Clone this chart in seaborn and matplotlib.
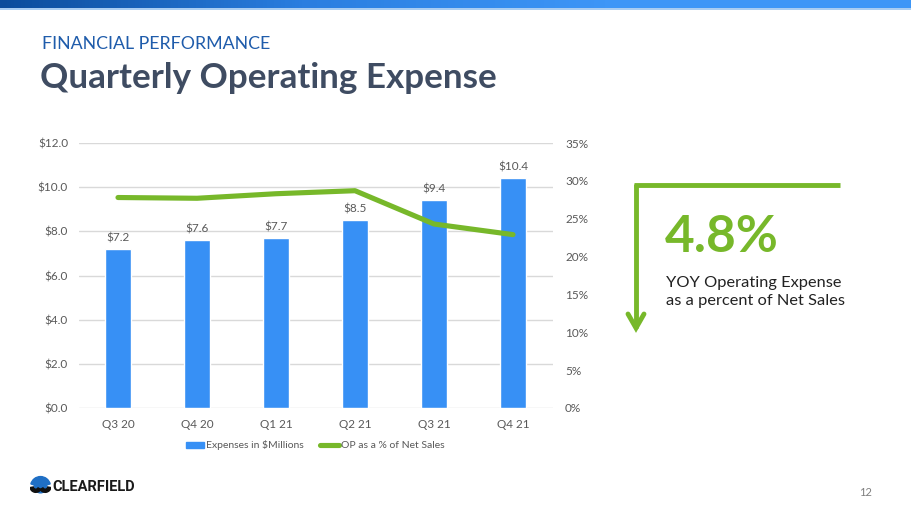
import numpy as np
import pandas as pd
import matplotlib
matplotlib.use("Agg")
import matplotlib.pyplot as plt
import seaborn as sns
from matplotlib.patches import Rectangle, Circle, Wedge
from matplotlib.lines import Line2D
from matplotlib.colors import LinearSegmentedColormap

quarters = ["Q3 20", "Q4 20", "Q1 21", "Q2 21", "Q3 21", "Q4 21"]
expenses = [7.2, 7.6, 7.7, 8.5, 9.4, 10.4]
op_pct = [27.8, 27.7, 28.3, 28.7, 24.3, 22.9]
left_ticks = [0, 2, 4, 6, 8, 10, 12]
right_ticks = [0, 5, 10, 15, 20, 25, 30, 35]

sns.set_theme(style="white")
plt.rcParams['font.family'] = ['Lato', 'DejaVu Sans']

BLUE = "#3790f5"
GREEN = "#77b82a"
GRAY = "#595959"

fig = plt.figure(figsize=(9.11, 5.12), dpi=100)

# top gradient band
band = fig.add_axes([0, 1 - 8 / 512, 1, 8 / 512])
grad = np.linspace(0, 1, 256).reshape(1, -1)
cmap = LinearSegmentedColormap.from_list("b", ["#0b4c9c", "#2a7ee0", "#3d96f7", "#3d96f7"])
band.imshow(grad, aspect="auto", cmap=cmap, extent=[0, 1, 0, 1])
band.axis("off")
fig.add_artist(Rectangle((0, 1 - 9.5 / 512), 1, 1.5 / 512, transform=fig.transFigure,
                         color="#a9cdf2", lw=0))

fig.text(42 / 911, 1 - 44 / 512, "FINANCIAL PERFORMANCE", color="#1f5cab",
         fontsize=12.8, va="center", ha="left")
fig.text(40 / 911, 1 - 78 / 512, "Quarterly Operating Expense", color="#3f4c62",
         fontsize=25.2, fontweight="bold", va="center", ha="left")

ax = fig.add_axes([78.5 / 911, 1 - 408 / 512, 474 / 911, 265 / 512])
df = pd.DataFrame({"quarter": quarters, "expense": expenses, "pct": op_pct})
sns.barplot(data=df, x="quarter", y="expense", color=BLUE, width=0.32, ax=ax,
            saturation=1, zorder=3)
ax.set_ylim(0, 12)
ax.set_xlim(-0.5, len(quarters) - 0.5)
ax.set_yticks(left_ticks)
ax.set_yticklabels([f"${v:.1f}" for v in left_ticks])
ax.grid(axis="y", color="#d9d9d9", lw=1, zorder=0)
ax.set_axisbelow(True)
for s in ax.spines.values():
    s.set_visible(False)
ax.tick_params(axis="y", length=0, labelsize=8.5, labelcolor=GRAY, pad=7.5)
ax.tick_params(axis="x", length=0, labelsize=8.5, labelcolor=GRAY, pad=8)
ax.set_xlabel("")
ax.set_ylabel("")
for i, v in enumerate(expenses):
    ax.annotate(f"${v:.1f}", (i, v), xytext=(0, 4), textcoords="offset points",
                ha="center", va="bottom", fontsize=8.5, color=GRAY)

ax2 = ax.twinx()
sns.lineplot(x=np.arange(len(quarters)), y=op_pct, ax=ax2, color=GREEN, lw=3.7,
             solid_capstyle="round", zorder=4)
ax2.set_ylim(0, 35)
ax2.set_yticks(right_ticks)
ax2.set_yticklabels([f"{v}%" for v in right_ticks])
for s in ax2.spines.values():
    s.set_visible(False)
ax2.tick_params(axis="y", length=0, labelsize=8.5, labelcolor=GRAY, pad=9)
ax2.grid(False)
ax2.set_ylabel("")

handles = [Rectangle((0, 0), 1, 1, color=BLUE),
           Line2D([0], [0], color=GREEN, lw=3.7)]
fig.legend(handles, ["Expenses in $Millions", "OP as a % of Net Sales"],
           loc="center", bbox_to_anchor=(315 / 911, 1 - 445.5 / 512), ncol=2,
           frameon=False, fontsize=7.5, handlelength=1.8, handleheight=0.5,
           handletextpad=0.15, columnspacing=1.6, labelcolor=GRAY)

# right callout
def fx(px):
    return px / 911

def fy(py):
    return 1 - py / 512

fig.add_artist(Line2D([fx(634), fx(840)], [fy(185), fy(185)], color=GREEN, lw=3.5,
                      transform=fig.transFigure, solid_capstyle="butt"))
fig.add_artist(Line2D([fx(636), fx(636)], [fy(183.5), fy(328)], color=GREEN, lw=3.5,
                      transform=fig.transFigure, solid_capstyle="butt"))
fig.add_artist(Line2D([fx(628), fx(636), fx(644)], [fy(314), fy(328), fy(314)],
                      color=GREEN, lw=3.5, transform=fig.transFigure,
                      solid_joinstyle="miter", solid_capstyle="round"))
fig.text(fx(665), fy(238), "4.8%", color=GREEN, fontsize=37, fontweight="bold",
         va="center", ha="left")
fig.text(fx(666), fy(283), "YOY Operating Expense", color="#222222", fontsize=11.8,
         va="center", ha="left")
fig.text(fx(666), fy(301), "as a percent of Net Sales", color="#222222", fontsize=11.8,
         va="center", ha="left")

# logo
lax = fig.add_axes([fx(30), fy(496), fx(21), 21 / 512])
lax.set_xlim(-1, 1)
lax.set_ylim(-1, 1)
lax.set_aspect("equal")
lax.axis("off")
lax.add_patch(Wedge((0, -0.1), 0.95, 15, 165, color="#1f6fc5"))
lax.add_patch(Circle((0, -0.1), 0.6, color="#1f6fc5"))
lax.add_patch(Wedge((-0.45, -0.1), 0.55, 190, 330, width=0.3, color="#111111"))
lax.add_patch(Wedge((0.45, -0.1), 0.55, 210, 350, width=0.3, color="#111111"))
fig.text(fx(52), fy(487), "CLEARFIELD", color="#1a1a1a", fontsize=10.5,
         fontweight="bold", va="center", ha="left", family=["Roboto", "DejaVu Sans"])
fig.text(fx(866), fy(492), "12", color="#7f7f7f", fontsize=8, va="center", ha="center")

fig.savefig("out.png", dpi=100)
